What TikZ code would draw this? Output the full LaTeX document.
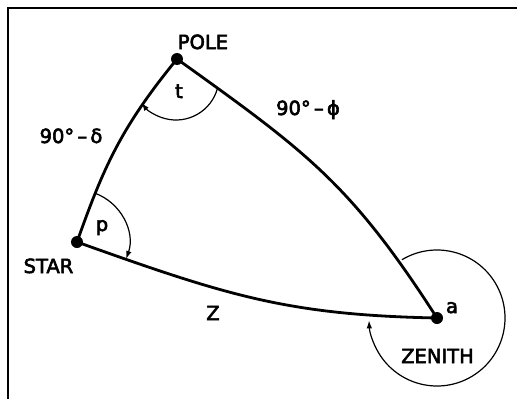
\documentclass[tikz,border=0pt]{standalone}
\usepackage{fontspec}
\newfontfamily\lab{DejaVu Sans}[FakeBold=3]
\usetikzlibrary{arrows.meta}
\begin{document}
\begin{tikzpicture}[x=1pt,y=1pt,yscale=-1,
  gc/.style={line width=2.8pt},
  ang/.style={line width=1.2pt,-{Latex[length=8pt,width=5.5pt]}},
  dot/.style={circle,fill=black,inner sep=0pt,minimum size=12pt},
  lbl/.style={font=\lab\fontsize{19.5}{20}\selectfont,inner sep=0pt,anchor=base}]
\useasboundingbox (0,0) rectangle (517,399);
\fill[white] (0,0) rectangle (517,399);
\draw[line width=1.6pt] (8,399) -- (8,8) -- (517,8);
% vertices
\node[dot] (pole) at (177,59) {};
\node[dot] (star) at (77,242) {};
\node[dot] (zen) at (437,318) {};
\coordinate (tc) at (176,77);
% great-circle arcs
\draw[gc] (pole.center) .. controls (120.3,128.3) and (103.4,167.8) .. (star.center);
\draw[gc] (pole.center) .. controls (306.6,151.8) and (350.6,183.6) .. (zen.center);
\draw[gc] (star.center) .. controls (227,295.5) and (287,315) .. (zen.center);
% angle arcs
\draw[ang] ([shift={(15:43)}]tc) arc[start angle=15,end angle=143,radius=43];
\draw[ang] ([shift={(-70:52)}]star.center) arc[start angle=-70,end angle=19,radius=52];
\draw[ang] ([shift={(-121:68)}]zen.center) arc[start angle=-121,end angle=178,radius=68];
% labels
\node[lbl] (lpole) at (203,49) {POLE};
\node[lbl] (ldelta) at (71,143) {90°\,–\,δ};
\node[lbl] (lt) at (179,98) {t};
\node[lbl] (lphi) at (308,115) {90°\,–\,ϕ};
\node[lbl] (lp) at (102,231) {p};
\node[lbl] (lstar) at (48.5,273) {STAR};
\node[lbl] (lz) at (213,320) {Z};
\node[lbl] (la) at (452,313) {a};
\node[lbl] (lzen) at (437.5,363) {ZENITH};
\end{tikzpicture}
\end{document}
